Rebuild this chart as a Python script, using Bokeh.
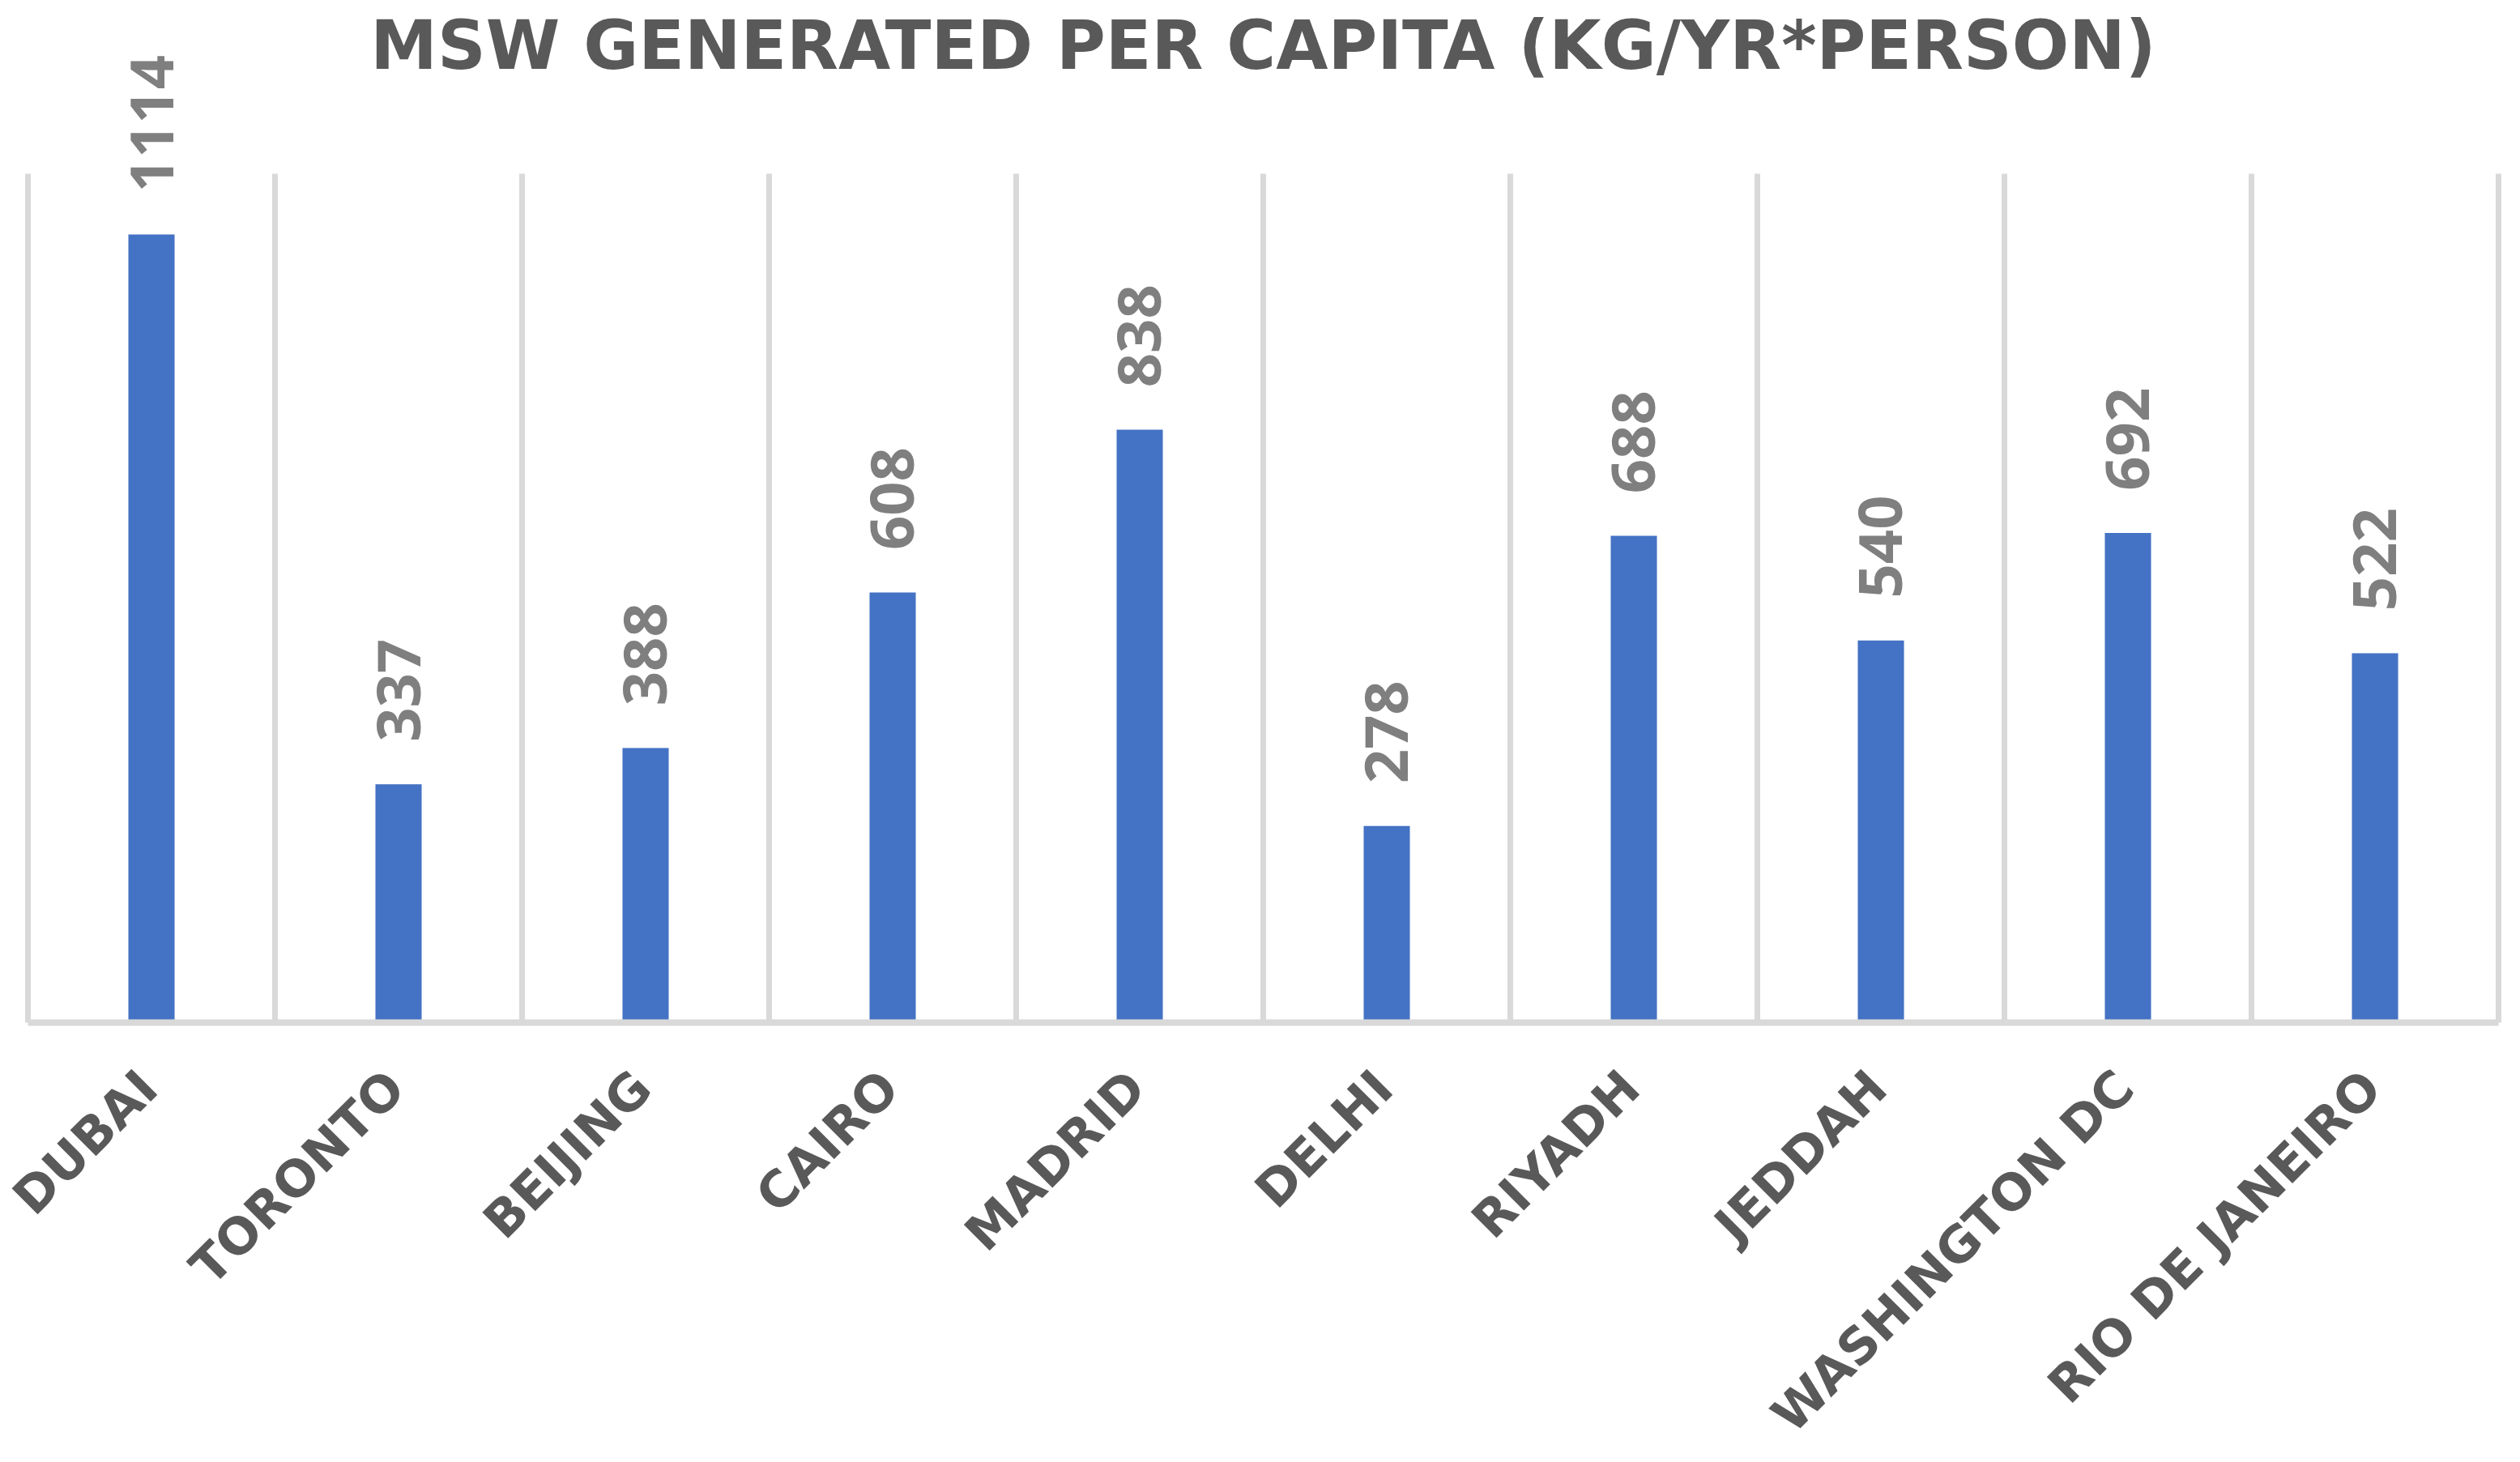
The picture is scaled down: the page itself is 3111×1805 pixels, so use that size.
import numpy as np
from math import pi
from bokeh.plotting import figure
from bokeh.models import ColumnDataSource, Range1d, LabelSet, Label
from bokeh.core.properties import value
from bokeh.embed import file_html
from bokeh.resources import INLINE

# ---- data ----
cities = ["DUBAI", "TORONTO", "BEIJING", "CAIRO", "MADRID", "DELHI",
          "RIYADH", "JEDDAH", "WASHINGTON DC", "RIO DE JANEIRO"]
msw = [1114, 337, 388, 608, 838, 278, 688, 540, 692, 522]
title_text = "MSW GENERATED PER CAPITA (KG/YR*PERSON)"

AXIS_MAX = 1200      # top of the value axis (end of the vertical grid lines)
Y_START = -621.8     # frame extends below the axis to hold category labels
Y_END = 1445.0       # frame extends above the axis to hold value labels and title
TITLE_Y = 1435.9
X_START = -0.1115    # small margin left of the first category
X_END = 10.0885
LABEL_GAP = 60       # gap between bar top and value label (data units)

n = len(cities)
centers = np.arange(n) + 0.5          # category centres on the category scale
src = ColumnDataSource(dict(
    x=centers,
    city=cities,
    val=msw,
    zero=[0] * n,
    label=[str(v) for v in msw],
    label_y=[v + LABEL_GAP for v in msw],
))

# category boundaries
bounds = list(range(n + 1))
grid_src = ColumnDataSource(dict(x=bounds, y0=[0] * len(bounds),
                                 y1=[AXIS_MAX] * len(bounds)))

NUM_FONT = "Open Sans"
CAP_FONT = "DejaVu Sans"

p = figure(x_range=Range1d(X_START, X_END), y_range=Range1d(Y_START, Y_END),
           width=3111, height=1805, output_backend="svg", toolbar_location=None,
           min_border_left=0, min_border_right=0, min_border_top=0,
           min_border_bottom=0)

# vertical category separators (Excel-style gridlines between categories)
p.segment(x0="x", y0="y0", x1="x", y1="y1", source=grid_src,
          line_color="#d9d9d9", line_width=7)

p.vbar(x="x", top="val", bottom=0, width=0.187, source=src,
       fill_color="#4472c4", line_color=None)

# category axis line
p.segment(x0=[bounds[0]], y0=[0], x1=[bounds[-1]], y1=[0],
          line_color="#d9d9d9", line_width=8)

# value labels above the bars
p.add_layout(LabelSet(x="x", y="label_y", text="label", source=src,
                      angle=pi / 2, text_align="left", text_baseline="middle",
                      text_font=value(NUM_FONT), text_font_size="74px",
                      text_font_style="bold", text_color="#7f7f7f"))

# category labels, rotated 45 degrees, ending under each category
p.add_layout(LabelSet(x="x", y="zero", text="city", source=src,
                      angle=pi / 4, text_align="right", text_baseline="middle",
                      x_offset=-4, y_offset=-70,
                      text_font=value(CAP_FONT), text_font_size="62px",
                      text_font_style="bold", text_color="#595959"))

p.add_layout(Label(x=n / 2, y=TITLE_Y, text=title_text,
                   text_align="center", text_baseline="top", text_font=CAP_FONT,
                   text_font_size="83px", text_font_style="bold",
                   text_color="#595959"))

p.xaxis.visible = False
p.yaxis.visible = False
p.xgrid.visible = False
p.ygrid.visible = False
p.outline_line_color = None
p.background_fill_color = "white"

open("out.html", "w").write(file_html(p, INLINE))
